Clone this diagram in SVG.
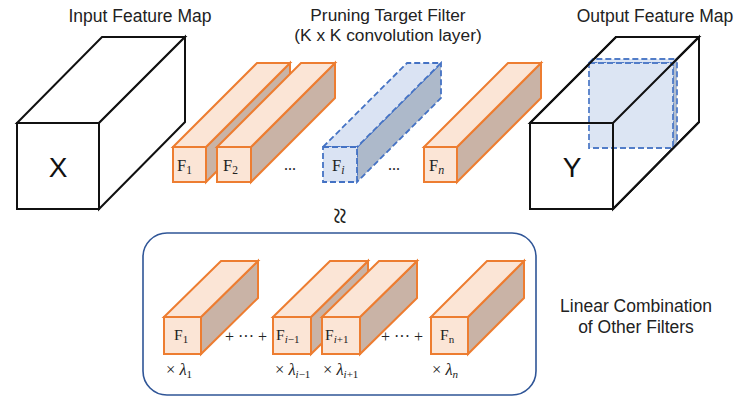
<svg xmlns="http://www.w3.org/2000/svg" width="736" height="399" viewBox="0 0 736 399">
<style>
.lbl{font-family:"Liberation Sans",Arial,sans-serif;font-size:17.5px;fill:#222;text-anchor:middle}
.big{font-family:"Liberation Sans",Arial,sans-serif;font-size:28px;fill:#111;text-anchor:middle}
.math{font-family:"Liberation Serif","DejaVu Serif",serif;fill:#222}
.cube{fill:#fff;stroke:#111;stroke-width:2;stroke-linejoin:miter}
.cubeline{fill:none;stroke:#111;stroke-width:2}
.of{fill:#fbe5d6;stroke:#ed7d31;stroke-width:2;stroke-linejoin:miter}
.os{fill:#c9b3a6;stroke:#ed7d31;stroke-width:2;stroke-linejoin:miter}
.bf{fill:#dae3f3;stroke:#4472c4;stroke-width:1.8;stroke-dasharray:6 3}
.bs{fill:#adb9ca;stroke:#4472c4;stroke-width:1.8;stroke-dasharray:6 3}
.frame{fill:none;stroke:#2f5597;stroke-width:1.6}
</style>

<!-- Titles -->
<text class="lbl" x="140" y="22">Input Feature Map</text>
<text class="lbl" x="388" y="21" style="font-size:17.3px">Pruning Target Filter</text>
<text class="lbl" x="388" y="40.5" style="font-size:17.3px">(K x K convolution layer)</text>
<text class="lbl" x="655" y="22">Output Feature Map</text>

<!-- Input feature map X -->
<g id="input-X">
  <polygon class="cube" points="17,123 102,37 185,37 99,123"/>
  <polygon class="cube" points="99,123 185,37 185,122 99,209"/>
  <rect class="cube" x="17" y="123" width="82" height="86"/>
  <text class="big" x="58" y="177">X</text>
</g>

<!-- Top filters -->
<g id="filter-F1">
  <polygon class="os" points="206,147 290,63 290,98 206,182"/>
  <polygon class="of" points="173,147 257,63 290,63 206,147"/>
  <rect class="of" x="173" y="147" width="33" height="35"/>
  <text class="math" x="177" y="171" font-size="16.5">F<tspan font-size="11.5" dy="3">1</tspan></text>
</g>
<g id="filter-F2">
  <polygon class="os" points="251,147 335,63 335,98 251,182"/>
  <polygon class="of" points="217,147 301,63 335,63 251,147"/>
  <rect class="of" x="217" y="147" width="34" height="35"/>
  <text class="math" x="223" y="171" font-size="16.5">F<tspan font-size="11.5" dy="3">2</tspan></text>
</g>
<text class="math" x="284" y="170" font-size="16">...</text>
<g id="filter-Fi">
  <polygon class="bs" points="357,147 441,63 441,98 357,182"/>
  <polygon class="bf" points="323,147 407,63 441,63 357,147"/>
  <rect class="bf" x="323" y="147" width="34" height="35"/>
  <text class="math" x="332" y="171" font-size="16.5">F<tspan font-size="12" dy="3" font-style="italic">i</tspan></text>
</g>
<text class="math" x="388" y="170" font-size="16">...</text>
<g id="filter-Fn">
  <polygon class="os" points="457,147 541,63 541,98 457,182"/>
  <polygon class="of" points="424,147 508,63 541,63 457,147"/>
  <rect class="of" x="424" y="147" width="33" height="35"/>
  <text class="math" x="429" y="171" font-size="16.5">F<tspan font-size="12" dy="3" font-style="italic">n</tspan></text>
</g>

<!-- Output feature map Y -->
<g id="output-Y">
  <polygon class="cube" points="530,123 616,37 699,37 613,123"/>
  <polygon class="cube" points="613,123 699,37 699,122 613,209"/>
  <rect class="cube" x="530" y="123" width="83" height="86"/>
  <g opacity="0.92">
    <polygon class="bs" points="673,63 677,59 677,144 673,148"/>
    <polygon class="bf" points="589,63 593,59 677,59 673,63"/>
    <rect class="bf" x="589" y="63" width="84" height="85"/>
  </g>
  <polygon class="cubeline" points="530,123 616,37 699,37 699,122 613,209 530,209"/>
  <polyline class="cubeline" points="530,123 613,123 699,37"/>
  <line class="cubeline" x1="613" y1="123" x2="613" y2="209"/>
  <text class="big" x="572" y="177">Y</text>
</g>

<!-- approx symbol -->
<text class="math" font-size="30" text-anchor="middle" dominant-baseline="central" transform="translate(340,216) rotate(90)">≈</text>

<!-- Linear combination box -->
<g id="linear-combination">
  <rect class="frame" x="143" y="233" width="393" height="162" rx="24" ry="24"/>

  <g id="lc-F1">
    <polygon class="os" points="201,317 258,261 258,298 201,354"/>
    <polygon class="of" points="164,317 221,261 258,261 201,317"/>
    <rect class="of" x="164" y="317" width="37" height="37"/>
    <text class="math" x="174" y="340" font-size="15.5">F<tspan font-size="11" dy="2.5">1</tspan></text>
  </g>
  <text class="math" x="225" y="342" font-size="16">+ ··· +</text>

  <g id="lc-Fi-1">
    <polygon class="os" points="311,317 368,261 368,298 311,354"/>
    <polygon class="of" points="273,317 330,261 368,261 311,317"/>
    <rect class="of" x="273" y="317" width="38" height="37"/>
    <text class="math" x="276" y="340" font-size="15.5">F<tspan font-size="11" dy="2.5"><tspan font-style="italic">i</tspan>−1</tspan></text>
  </g>
  <g id="lc-Fi+1">
    <polygon class="os" points="360,317 417,261 417,298 360,354"/>
    <polygon class="of" points="322,317 379,261 417,261 360,317"/>
    <rect class="of" x="322" y="317" width="38" height="37"/>
    <text class="math" x="325" y="340" font-size="15.5">F<tspan font-size="11" dy="2.5"><tspan font-style="italic">i</tspan>+1</tspan></text>
  </g>
  <text class="math" x="381" y="342" font-size="16">+ ··· +</text>

  <g id="lc-Fn">
    <polygon class="os" points="468,317 524,261 524,298 468,354"/>
    <polygon class="of" points="431,317 487,261 524,261 468,317"/>
    <rect class="of" x="431" y="317" width="37" height="37"/>
    <text class="math" x="440" y="340" font-size="15.5">F<tspan font-size="11" dy="2.5">n</tspan></text>
  </g>

  <text class="math" x="166" y="375" font-size="16.5">× <tspan font-style="italic">λ</tspan><tspan font-size="11" dy="3">1</tspan></text>
  <text class="math" x="275" y="375" font-size="16.5">× <tspan font-style="italic">λ</tspan><tspan font-size="11" dy="3"><tspan font-style="italic">i</tspan>−1</tspan></text>
  <text class="math" x="323" y="375" font-size="16.5">× <tspan font-style="italic">λ</tspan><tspan font-size="11" dy="3"><tspan font-style="italic">i</tspan>+1</tspan></text>
  <text class="math" x="432" y="375" font-size="16.5">× <tspan font-style="italic">λ</tspan><tspan font-size="11" dy="3" font-style="italic">n</tspan></text>
</g>

<text class="lbl" x="636" y="312">Linear Combination</text>
<text class="lbl" x="636" y="333">of Other Filters</text>

<g id="connectors"/>
</svg>
